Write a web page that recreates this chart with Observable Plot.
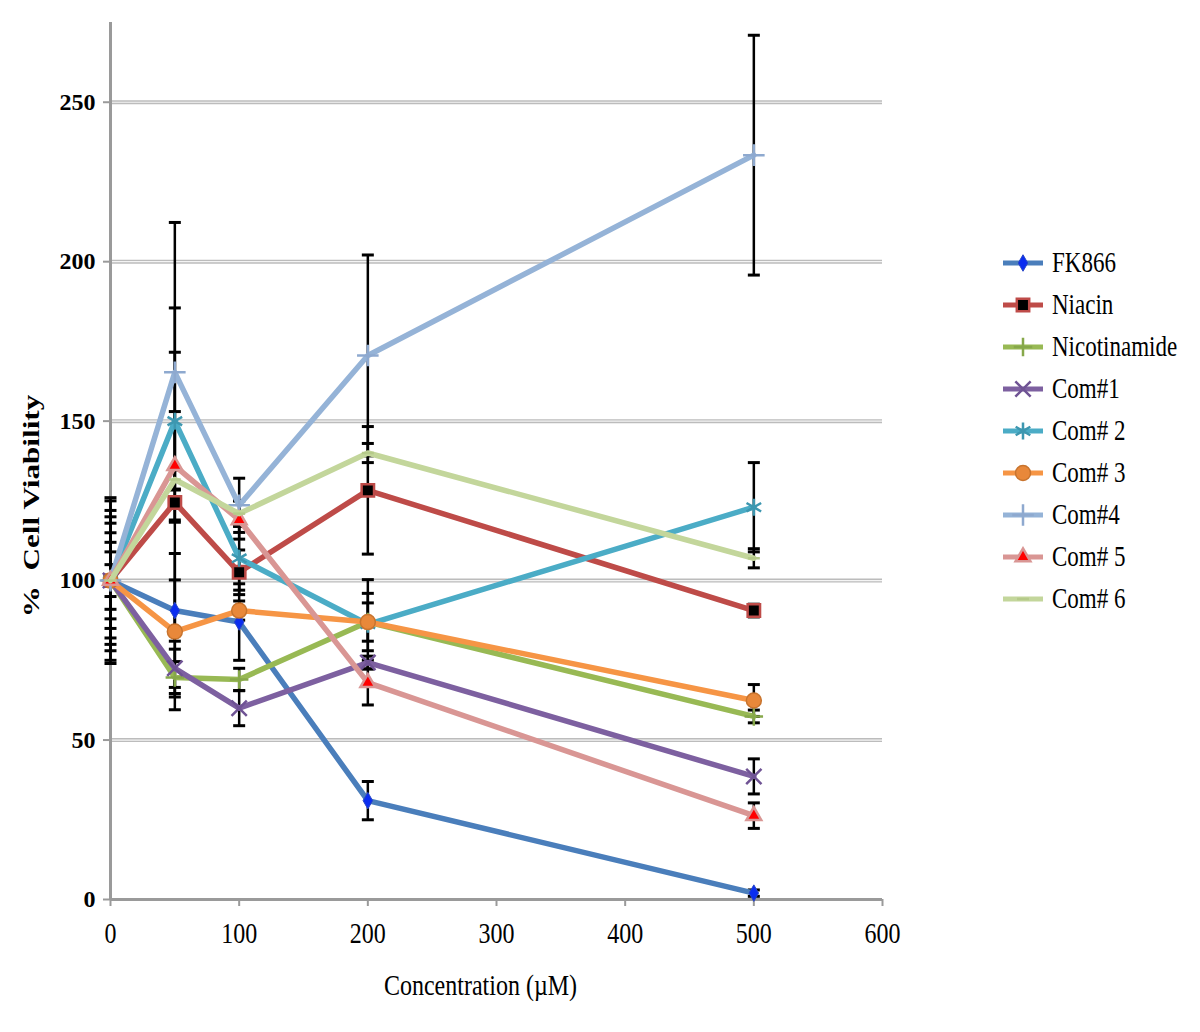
<!DOCTYPE html>
<html><head><meta charset="utf-8">
<script src="https://cdn.jsdelivr.net/npm/d3@7"></script>
<script src="https://cdn.jsdelivr.net/npm/@observablehq/plot@0.6"></script>
<style>
body{margin:0;background:#fff;}
#wrap{position:relative;width:1200px;height:1032px;color:#000;}
#chart{position:absolute;left:0;top:0;}
#legend{position:absolute;left:1000px;top:242px;}
.row{height:42px;display:flex;align-items:center;font-size:23px;white-space:pre;font-family:"Liberation Serif","DejaVu Serif";}
.row svg{margin-right:6px;}
.row span{display:inline-block;transform:scaleY(1.25);}
</style></head><body>
<div id="wrap"><div id="chart"></div><div id="legend"></div></div>
<script>
// ---- data ----
const concentrations = [0, 50, 100, 200, 500];
const seriesNames = ["FK866", "Niacin", "Nicotinamide", "Com#1", "Com# 2", "Com# 3", "Com#4", "Com# 5", "Com# 6"];
const fk866        = [100, 90.6, 87, 31, 2];
const niacin       = [100, 124.5, 102.6, 128.3, 90.6];
const nicotinamide = [100, 69.6, 69, 87, 57.4];
const com1         = [100, 72.5, 60, 74.3, 38.6];
const com2         = [100, 150, 107, 86.3, 123];
const com3         = [100, 84, 90.6, 87, 62.4];
const com4         = [100, 165.3, 123.6, 170.6, 233.4];
const com5         = [100, 136, 119, 68, 26.3];
const com6         = [100, 131.7, 121, 140, 107];
const fk866Err        = [22, 9.6, 12, 6, 1];
const niacinErr       = [18, 61, 7, 20, 2];
const nicotinamideErr = [25, 5, 3.5, 6, 2];
const com1Err         = [12, 6, 5.5, 2, 5.5];
const com2Err         = [20, 21.6, 10, 14, 14];
const com3Err         = [15, 24.5, 3, 9, 5];
const com4Err         = [26, 47, 8.5, 31.5, 37.6];
const com5Err         = [9, 17, 6, 7, 4];
const com6Err         = [5, 3, 4, 3, 3];
const xTicks = [0, 100, 200, 300, 400, 500, 600];
const yTicks = [0, 50, 100, 150, 200, 250];

const allValues = [fk866, niacin, nicotinamide, com1, com2, com3, com4, com5, com6];
const allErrors = [fk866Err, niacinErr, nicotinamideErr, com1Err, com2Err, com3Err, com4Err, com5Err, com6Err];

// ---- styles ----
const serif = "Liberation Serif, DejaVu Serif";
const dashSymbol = {draw(ctx, size){const r = Math.sqrt(size/Math.PI); ctx.moveTo(-r,0); ctx.lineTo(r,0);}};
const capSymbol  = {draw(ctx, size){const r = Math.sqrt(size/Math.PI); ctx.moveTo(-r,0); ctx.lineTo(r,0);}};
const styles = [
  {color:"#4a7ebb", symbol:d3.symbolDiamond,  r:5,   fill:"#0a2df0", stroke:"#2846c8", sw:1},
  {color:"#be4b48", symbol:d3.symbolSquare,   r:7,   fill:"#000000", stroke:"#be4b48", sw:2.5},
  {color:"#98b954", symbol:d3.symbolPlus,     r:6,   fill:"none",    stroke:"#86a84a", sw:2.5},
  {color:"#7d60a0", symbol:d3.symbolTimes,    r:7,   fill:"none",    stroke:"#6f5394", sw:2.5},
  {color:"#4bacc6", symbol:d3.symbolAsterisk, r:8,   fill:"none",    stroke:"#3d97b0", sw:2.5},
  {color:"#f69545", symbol:d3.symbolCircle,   r:7.5, fill:"#e8883a", stroke:"#c8742e", sw:1.5},
  {color:"#95b3d7", symbol:d3.symbolPlus,     r:7,   fill:"none",    stroke:"#8ea9cf", sw:2.5},
  {color:"#d99694", symbol:d3.symbolTriangle, r:5.5, fill:"#ff0000", stroke:"#d99694", sw:2.5},
  {color:"#c3d69b", symbol:dashSymbol,        r:6,   fill:"none",    stroke:"#b5ca8a", sw:2.5}
];

const rows = [];
seriesNames.forEach((s, i) => concentrations.forEach((c, j) =>
  rows.push({series: s, idx: i, x: c, y: allValues[i][j], e: allErrors[i][j]})));

const marks = [
  Plot.ruleY(yTicks.filter(d => d > 0), {x1: 0, x2: 600, stroke: "#bcbcbc", strokeWidth: 4}),
  Plot.ruleY(yTicks.filter(d => d > 0), {x1: 0, x2: 600, stroke: "#f4f4f4", strokeWidth: 1.2}),
  Plot.ruleX([0], {y1: 0, y2: 275, stroke: "#9a9a9a", strokeWidth: 3}),
  Plot.ruleY([0], {x1: 0, x2: 600, stroke: "#9a9a9a", strokeWidth: 3}),
  Plot.axisY({ticks: yTicks, tickSize: 7, tickPadding: 8, stroke: "#9a9a9a", strokeWidth: 2, fill: "#000",
              fontFamily: serif, fontSize: 24, fontWeight: "bold", label: null, tickFormat: d => String(d)}),
  Plot.axisX({ticks: xTicks, tickSize: 7, tickPadding: 17, stroke: "#9a9a9a", strokeWidth: 2, fill: "#000",
              fontFamily: serif, fontSize: 24, label: null, tickFormat: d => String(d), className: "xticks"}),
  Plot.ruleX(rows, {x: "x", y1: d => d.y - d.e, y2: d => d.y + d.e, stroke: "#000", strokeWidth: 2.5}),
  Plot.dot(rows, {x: "x", y: d => d.y + d.e, symbol: capSymbol, r: 6, fill: "none", stroke: "#000", strokeWidth: 3}),
  Plot.dot(rows, {x: "x", y: d => d.y - d.e, symbol: capSymbol, r: 6, fill: "none", stroke: "#000", strokeWidth: 3})
];
seriesNames.forEach((s, i) => {
  const st = styles[i];
  const data = rows.filter(d => d.idx === i);
  marks.push(Plot.line(data, {x: "x", y: "y", stroke: st.color, strokeWidth: 5.5, strokeLinejoin: "round"}));
  marks.push(Plot.dot(data, {x: "x", y: "y", symbol: st.symbol, r: st.r, fill: st.fill, stroke: st.stroke, strokeWidth: st.sw}));
});
marks.push(Plot.text(["%\u00a0\u00a0Cell Viability"], {text: d => d, frameAnchor: "left", textAnchor: "middle",
  rotate: -90, dx: -79, dy: 45, fontFamily: serif, fontSize: 24, fontWeight: "bold", fill: "#000",
  className: "ytitle"}));
marks.push(Plot.text(["Concentration (\u00b5M)"], {text: d => d, frameAnchor: "bottom", textAnchor: "middle",
  dx: -16, dy: 93, fontFamily: serif, fontSize: 24, fill: "#000", className: "xtitle"}));

const chart = Plot.plot({
  width: 960, height: 1032,
  marginLeft: 110, marginRight: 78, marginTop: 22, marginBottom: 133,
  x: {domain: [0, 600]},
  y: {domain: [0, 275]},
  style: {fontFamily: serif, color: "#000", background: "#fff"},
  marks
});
document.getElementById("chart").appendChild(chart);
d3.select(chart).selectAll("text").attr("font-family", serif).style("font-family", serif);

// stretch text about its own centre, as in the (vertically stretched) original
function stretch(sel, sx, sy) {
  sel.each(function() {
    const b = this.getBBox();
    const cx = b.x + b.width / 2, cy = b.y + b.height / 2;
    const t = this.getAttribute("transform") || "";
    this.setAttribute("transform", `${t} translate(${cx},${cy}) scale(${sx},${sy}) translate(${-cx},${-cy})`);
  });
}
stretch(d3.select(chart).selectAll(".xticks text"), 1, 1.25);
stretch(d3.select(chart).selectAll(".xtitle text"), 1, 1.25);
stretch(d3.select(chart).selectAll(".ytitle text"), 1.3, 1);

// ---- legend ----
const legend = d3.select("#legend");
seriesNames.forEach((s, i) => {
  const st = styles[i];
  const row = legend.append("div").attr("class", "row");
  const svg = row.append("svg").attr("width", 46).attr("height", 22);
  svg.append("line").attr("x1", 3).attr("x2", 43).attr("y1", 11).attr("y2", 11)
    .attr("stroke", st.color).attr("stroke-width", 5);
  svg.append("path").attr("transform", "translate(23,11)")
    .attr("d", d3.symbol(st.symbol, Math.PI * st.r * st.r)())
    .attr("fill", st.fill).attr("stroke", st.stroke).attr("stroke-width", st.sw);
  row.append("span").style("font-family", serif).text(s);
});
</script>
</body></html>
